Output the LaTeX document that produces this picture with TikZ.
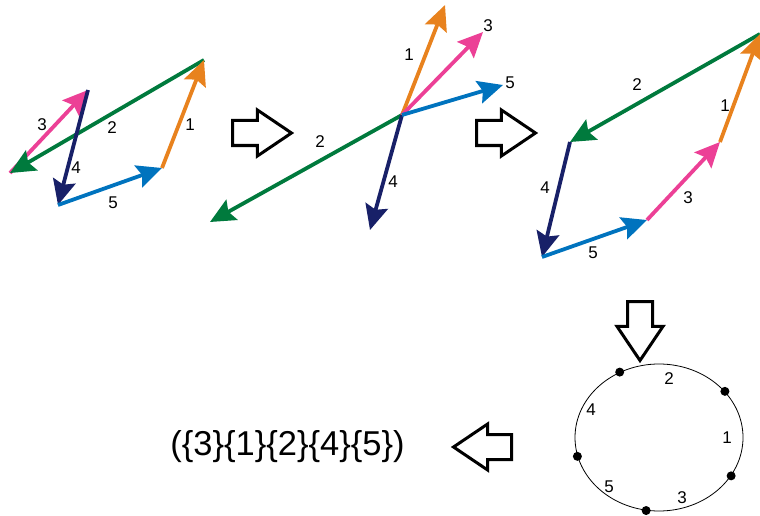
\documentclass[tikz,border=0pt]{standalone}
\usepackage{fontspec}
\setmainfont{Liberation Sans}
\usetikzlibrary{arrows.meta, shapes.arrows, shapes.geometric, positioning}
\definecolor{vecone}{HTML}{E8821E}
\definecolor{vectwo}{HTML}{007A3D}
\definecolor{vecthree}{HTML}{EC4096}
\definecolor{vecfour}{HTML}{182068}
\definecolor{vecfive}{HTML}{0073BE}
\tikzset{
  vec/.style={-{Stealth[length=25pt, width=23pt, inset=4pt]}, line width=3.8pt},
  lbl/.style={font=\fontsize{17}{20}\selectfont, inner sep=1pt},
  stepbox/.style={single arrow, draw, line width=3pt, fill=white,
                  minimum height=59pt, minimum width=43pt,
                  inner xsep=0pt, inner ysep=11pt, anchor=tail,
                  single arrow head extend=10.5pt, single arrow tip angle=68},
  vertex/.style={circle, fill, inner sep=0pt, minimum size=9pt}
}
\begin{document}
\begin{tikzpicture}[x=1pt, y=-1pt]
  \useasboundingbox (0,0) rectangle (760,516);

  % First arrangement: closed chain
  \coordinate (a1) at (10,173);
  \coordinate (b1) at (88,90);
  \coordinate (c1) at (58,205);
  \coordinate (d1) at (162,168);
  \coordinate (e1) at (204,60);
  \draw[vec, vecthree] (a1) -- (b1);
  \draw[vec, vectwo] (e1) -- (a1);
  \draw[vec, vecfour] (b1) -- (c1);
  \draw[vec, vecfive] (c1) -- (d1);
  \draw[vec, vecone] (d1) -- (e1);
  \node[lbl] (l13) at (42,125) {3};
  \node[lbl] (l12) at (112,128) {2};
  \node[lbl] (l11) at (190,125) {1};
  \node[lbl] (l14) at (76,168) {4};
  \node[lbl] (l15) at (113,203) {5};

  \node[stepbox] (step1) at (231,133) {};

  % Second arrangement: common origin
  \coordinate (o2) at (402,115);
  \coordinate (t21) at (445,5);
  \coordinate (t22) at (210,222);
  \coordinate (t23) at (483,32);
  \coordinate (t24) at (370,230);
  \coordinate (t25) at (503,85);
  \draw[vec, vectwo] (o2) -- (t22);
  \draw[vec, vecfour] (o2) -- (t24);
  \draw[vec, vecone] (o2) -- (t21);
  \draw[vec, vecthree] (o2) -- (t23);
  \draw[vec, vecfive] (o2) -- (t25);
  \node[lbl] (l21) at (409,55) {1};
  \node[lbl] (l23) at (488,26) {3};
  \node[lbl] (l25) at (510,83) {5};
  \node[lbl] (l22) at (320,142) {2};
  \node[lbl] (l24) at (393,182) {4};

  \node[stepbox] (step2) at (475,133) {};

  % Third arrangement: sorted chain
  \coordinate (p3) at (760,34);
  \coordinate (q3) at (570,142);
  \coordinate (r3) at (542,257);
  \coordinate (s3) at (647,220);
  \coordinate (u3) at (720,142);
  \draw[vec, vectwo] (p3) -- (q3);
  \draw[vec, vecfour] (q3) -- (r3);
  \draw[vec, vecfive] (r3) -- (s3);
  \draw[vec, vecthree] (s3) -- (u3);
  \draw[vec, vecone] (u3) -- (p3);
  \node[lbl] (l32) at (637,85) {2};
  \node[lbl] (l31) at (725,106) {1};
  \node[lbl] (l34) at (545,188) {4};
  \node[lbl] (l33) at (688,198) {3};
  \node[lbl] (l35) at (593,253) {5};

  % Cyclic order
  \node[ellipse, draw, line width=0.8pt, minimum width=168pt, minimum height=147pt,
        inner sep=0pt] (ring) at (659,437.5) {};
  \node[stepbox, rotate=-90] (step3) at (640,300) {};
  \node[vertex] (v1) at (ring.121.8) {};
  \node[vertex] (v2) at (ring.35.6) {};
  \node[vertex] (v3) at (ring.-28.5) {};
  \node[vertex] (v4) at (ring.260.5) {};
  \node[vertex] (v5) at (ring.193.2) {};
  \node[lbl] (c2) at (669,379) {2};
  \node[lbl] (c1) at (727,438) {1};
  \node[lbl] (c3) at (682,498) {3};
  \node[lbl] (c5) at (609,487) {5};
  \node[lbl] (c4) at (591,410) {4};

  \node[stepbox, rotate=180, minimum height=58pt] (step4) at (513,447) {};
  \node[font=\fontsize{34.5}{41}\selectfont, inner sep=0pt, anchor=east]
    (word) at ([xshift=-46pt]step4.tip) {(\{3\}\{1\}\{2\}\{4\}\{5\})};
\end{tikzpicture}
\end{document}
